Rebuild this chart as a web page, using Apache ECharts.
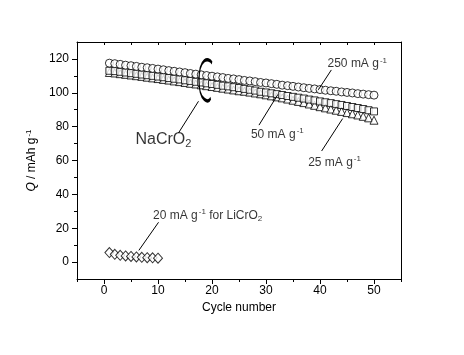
<!DOCTYPE html>
<html>
<head>
<meta charset="utf-8">
<script src="https://cdn.jsdelivr.net/npm/echarts@6/dist/echarts.min.js"></script>
<style>
html, body { margin: 0; padding: 0; background: #fff; }
#chart { width: 464px; height: 355px; }
</style>
</head>
<body>
<div id="chart"></div>
<script>
// cycle numbers
var cycles = [1,2,3,4,5,6,7,8,9,10,11,12,13,14,15,16,17,18,19,20,21,22,23,24,25,
              26,27,28,29,30,31,32,33,34,35,36,37,38,39,40,41,42,43,44,45,46,47,48,49,50];
var cyclesLi = [1,2,3,4,5,6,7,8,9,10];

// NaCrO2, 250 mA g-1 (circles)
var q250 = [117.5,117.2,116.8,116.3,116.0,115.6,115.1,114.8,114.4,114.0,113.6,113.1,112.7,112.3,111.9,111.4,111.0,110.6,110.2,109.8,
            109.4,109.0,108.5,108.2,107.8,107.3,107.0,106.6,106.1,105.8,105.4,105.0,104.5,104.2,103.8,103.4,103.0,102.6,102.3,101.9,
            101.5,101.2,100.9,100.5,100.2,99.9,99.5,99.2,98.9,98.6];
// NaCrO2, 50 mA g-1 (squares)
var q50 = [113.0,112.8,112.4,112.0,111.6,111.2,110.8,110.4,110.0,109.6,109.2,108.7,108.3,107.9,107.4,107.0,106.5,106.1,105.6,105.2,
           104.7,104.2,103.8,103.3,102.8,102.3,101.8,101.3,100.6,100.2,99.7,99.2,98.7,98.1,97.6,97.1,96.6,96.0,95.5,94.9,
           94.4,93.9,93.3,92.8,92.2,91.6,91.0,90.4,89.7,89.0];
// NaCrO2, 25 mA g-1 (triangles)
var q25 = [112.0,111.7,111.3,110.9,110.5,110.1,109.7,109.2,108.8,108.4,107.9,107.5,107.0,106.6,106.1,105.6,105.2,104.7,104.2,103.7,
           103.2,102.7,102.2,101.7,101.2,100.9,100.4,99.9,99.4,98.8,98.2,97.6,97.0,96.3,95.6,94.9,94.2,93.4,92.6,91.8,
           91.1,90.4,89.7,89.0,88.3,87.6,86.9,86.1,85.2,83.8];
// LiCrO2, 20 mA g-1 (diamonds)
var qLi = [5.6,4.6,4.0,3.6,3.3,3.0,2.8,2.6,2.5,2.3];

// ticks
var xMajor = [0,10,20,30,40,50];
var xMinor = [-5,5,15,25,35,45,55];
var xTop = [0,5,10,15,20,25,30,35,40,45,50];
var yMajor = [0,20,40,60,80,100,120];
var yMinor = [10,30,50,70,90,110];

// annotation texts [text, x, y]
var notes = [
  ['{n|250 mA g}{sup|-1}', 46.9, 116.9],
  ['{n|50 mA g}{sup|-1}', 32.1, 75.5],
  ['{n|25 mA g}{sup|-1}', 42.7, 58.7],
  ['{big|NaCrO}{sub|2}', 11.0, 72.6],
  ['{n|20 mA g}{sup|-1}{n| for LiCrO}{sub2|2}', 19.2, 27.4]
];
// leader lines [x1, y1, x2, y2]
var leaders = [
  [39.7, 101.8, 42.1, 113.5],
  [28.7, 80.9, 32.2, 99.0],
  [40.3, 65.6, 44.2, 84.8],
  [13.8, 76.3, 17.5, 95.0],
  [6.45, 6.9, 10.1, 23.5]
];
// bracket around NaCrO2 curves
var bracketAt = [18.8, 107.4];

var FONT = '"Liberation Sans", Arial, sans-serif';

function pairs(xs, ys) {
  return ys.map(function (v, i) { return [xs[i], v]; });
}

var chart = echarts.init(document.getElementById('chart'));

var richText = {
  n: { fontSize: 12, fontFamily: FONT, color: '#000' },
  i: { fontSize: 12, fontFamily: FONT, color: '#000', fontStyle: 'italic' },
  sup: { fontSize: 8, fontFamily: FONT, color: '#000', padding: [0, 0, 7, 1] },
  big: { fontSize: 16, fontFamily: FONT, color: '#000' },
  sub: { fontSize: 11, fontFamily: FONT, color: '#000', padding: [9, 0, 0, 0] },
  sub2: { fontSize: 8, fontFamily: FONT, color: '#000', padding: [7, 0, 0, 0] }
};

var lineStyle = { color: '#000', width: 1 };

var symbolStyle = { color: '#fff', borderColor: '#000', borderWidth: 1 };

var option = {
  backgroundColor: '#fff',
  animation: false,
  grid: { left: 77, right: 63, top: 42, bottom: 76 },
  xAxis: [
    {
      type: 'value', min: -5, max: 55, position: 'bottom',
      axisLine: { onZero: false, lineStyle: lineStyle },
      axisTick: { customValues: xMajor, length: 5, lineStyle: lineStyle },
      axisLabel: { customValues: xMajor, margin: 6, fontSize: 12, fontFamily: FONT, color: '#000' },
      splitLine: { show: false },
      name: 'Cycle number', nameLocation: 'middle', nameGap: 22,
      nameTextStyle: { fontSize: 12, fontFamily: FONT, color: '#000' }
    },
    {
      type: 'value', min: -5, max: 55, position: 'bottom',
      axisLine: { show: false, onZero: false },
      axisTick: { customValues: xMinor, length: 3, lineStyle: lineStyle },
      axisLabel: { show: false },
      splitLine: { show: false }
    },
    {
      type: 'value', min: -5, max: 55, position: 'top',
      axisLine: { show: true, onZero: false, lineStyle: lineStyle },
      axisTick: { customValues: xTop, length: 3, inside: true, lineStyle: lineStyle },
      axisLabel: { show: false },
      splitLine: { show: false }
    }
  ],
  yAxis: [
    {
      type: 'value', min: -10, max: 130, position: 'left',
      axisLine: { show: true, onZero: false, lineStyle: lineStyle },
      axisTick: { show: true, customValues: yMajor, length: 5, lineStyle: lineStyle },
      axisLabel: { customValues: yMajor, margin: 8, fontSize: 12, fontFamily: FONT, color: '#000' },
      splitLine: { show: false },
      name: '{i|Q}{n| / mAh g}{sup|-1}', nameLocation: 'middle', nameGap: 28, nameRotate: 90,
      nameTextStyle: { rich: richText }
    },
    {
      type: 'value', min: -10, max: 130, position: 'left',
      axisLine: { show: false, onZero: false },
      axisTick: { show: true, customValues: yMinor, length: 3, lineStyle: lineStyle },
      axisLabel: { show: false },
      splitLine: { show: false }
    },
    {
      type: 'value', min: -10, max: 130, position: 'right',
      axisLine: { show: true, onZero: false, lineStyle: lineStyle },
      axisTick: { show: false },
      axisLabel: { show: false },
      splitLine: { show: false }
    }
  ],
  series: [
    {
      name: 'LiCrO2 20', type: 'scatter', symbol: 'diamond', symbolSize: [9, 10],
      itemStyle: symbolStyle, data: pairs(cyclesLi, qLi)
    },
    {
      name: '25', type: 'scatter', symbol: 'triangle', symbolSize: 8,
      itemStyle: symbolStyle, data: pairs(cycles, q25)
    },
    {
      name: '50', type: 'scatter', symbol: 'rect', symbolSize: 7,
      itemStyle: symbolStyle, data: pairs(cycles, q50)
    },
    {
      name: '250', type: 'scatter', symbol: 'circle', symbolSize: 8,
      itemStyle: symbolStyle, data: pairs(cycles, q250)
    },
    {
      // annotation texts, leader lines and bracket
      type: 'scatter', symbolSize: 0, silent: true, z: 5,
      data: notes.map(function (n) {
        return { value: [n[1], n[2]], label: { formatter: n[0] } };
      }),
      label: { show: true, position: 'inside', rich: richText },
      markLine: {
        silent: true, symbol: 'none', animation: false,
        lineStyle: { color: '#000', width: 1, type: 'solid' },
        label: { show: false },
        data: leaders.map(function (l) {
          return [{ coord: [l[0], l[1]] }, { coord: [l[2], l[3]] }];
        })
      },
      markPoint: {
        silent: true, animation: false,
        symbol: 'path://M13,4 C12,1 9,0 7,2 C4,5 3,12 3,20 C3,29 4,35 7,38 C9,40 11,40 12,37',
        symbolSize: [13, 41], symbolKeepAspect: false,
        itemStyle: { color: 'rgba(0,0,0,0)', borderColor: '#000', borderWidth: 2 },
        label: { show: false },
        data: [{ coord: bracketAt }]
      }
    }
  ]
};

chart.setOption(option);
window.addEventListener('resize', function () { chart.resize(); });
</script>
</body>
</html>
